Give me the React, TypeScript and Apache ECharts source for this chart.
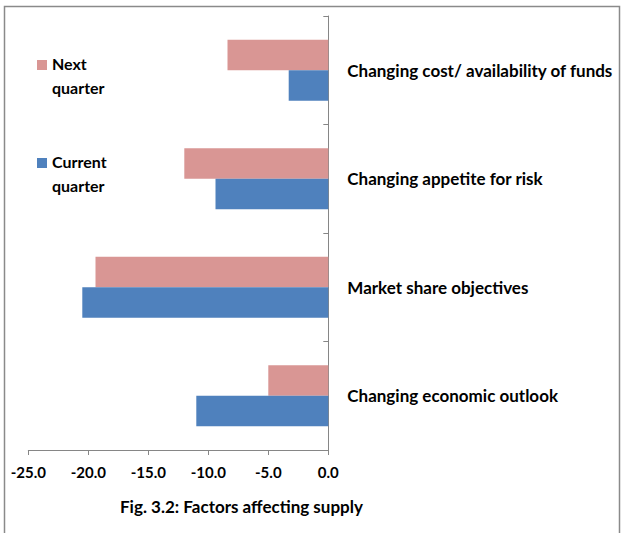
import React, { useEffect, useRef } from "react";
import * as echarts from "echarts";

const categories = [
  "Changing cost/ availability of funds",
  "Changing appetite for risk",
  "Market share objectives",
  "Changing economic outlook",
];
const seriesNames = ["Next quarter", "Current quarter"];
const nextQuarter = [-8.4, -12.0, -19.4, -5.0];
const currentQuarter = [-3.3, -9.4, -20.5, -11.0];
const seriesColors = ["#D99694", "#4F81BD"];
const xTicks = { min: -25, max: 0, interval: 5 };
const title = "Fig. 3.2: Factors affecting supply";

const FONT = "Lato, 'DejaVu Sans Condensed', sans-serif";

export default function App() {
  const ref = useRef<HTMLDivElement>(null);

  useEffect(() => {
    if (!ref.current) return;
    const chart = echarts.init(ref.current, undefined, { renderer: "svg" });

    const legendItems: any[] = [];
    const legendTops = [60, 158];
    seriesNames.forEach((name, i) => {
      const [first, ...rest] = name.split(" ");
      legendItems.push({
        type: "rect",
        left: 37,
        top: legendTops[i],
        shape: { width: 10, height: 10 },
        style: { fill: seriesColors[i] },
      });
      legendItems.push({
        type: "text",
        left: 52,
        top: legendTops[i] - 9,
        style: {
          text: first + "\n" + rest.join(" "),
          font: `bold 16px ${FONT}`,
          fill: "#000",
          lineHeight: 24,
        },
      });
    });

    chart.setOption({
      animation: false,
      backgroundColor: "#fff",
      grid: { left: 28.3, right: 292.7, top: 16, bottom: 83, outerBoundsMode: "none", containLabel: false },
      xAxis: {
        type: "value",
        min: xTicks.min,
        max: xTicks.max,
        interval: xTicks.interval,
        axisLine: { show: true, lineStyle: { color: "#868686", width: 1 } },
        axisTick: { show: true, length: 5, lineStyle: { color: "#868686" } },
        splitLine: { show: false },
        axisLabel: {
          formatter: (v: number) => v.toFixed(1),
          color: "#000",
          fontFamily: FONT,
          fontWeight: "bold",
          fontSize: 15,
          margin: 14,
        },
      },
      yAxis: {
        type: "category",
        data: categories,
        inverse: true,
        position: "right",
        axisLine: { show: true, lineStyle: { color: "#868686", width: 1 } },
        axisTick: { show: true, inside: true, length: 5, lineStyle: { color: "#868686" } },
        axisLabel: {
          color: "#000",
          fontFamily: FONT,
          fontWeight: "bold",
          fontSize: 17,
          margin: 19,
        },
      },
      series: [
        {
          name: seriesNames[0],
          type: "bar",
          data: nextQuarter,
          barWidth: 30.5,
          barGap: "0%",
          itemStyle: { color: seriesColors[0] },
        },
        {
          name: seriesNames[1],
          type: "bar",
          data: currentQuarter,
          barWidth: 30.5,
          barGap: "0%",
          itemStyle: { color: seriesColors[1] },
        },
      ],
      graphic: [
        {
          type: "rect",
          left: 2,
          top: 4,
          shape: { width: 615, height: 560 },
          style: { fill: "none", stroke: "#8a8a8a", lineWidth: 1.5 },
        },
        ...legendItems,
        {
          type: "text",
          left: 120,
          top: 498,
          style: {
            text: title,
            font: `bold 17px ${FONT}`,
            fill: "#000",
          },
        },
      ],
    });

    return () => chart.dispose();
  }, []);

  return <div ref={ref} style={{ width: 621, height: 533, position: "fixed", left: 0, top: 0 }} />;
}
